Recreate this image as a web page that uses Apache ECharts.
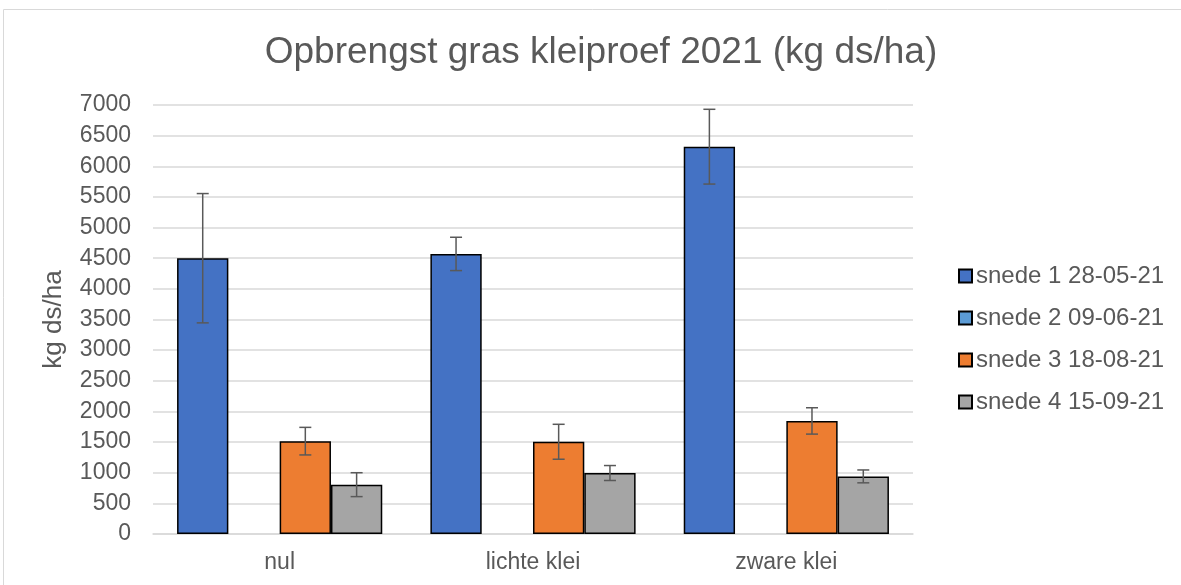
<!DOCTYPE html>
<html lang="nl">
<head>
  <meta charset="UTF-8">
  <title>Opbrengst gras kleiproef 2021</title>
  <style>
    * { margin: 0; padding: 0; }
    body { background: #fff; }
  </style>
  <script src="https://cdn.jsdelivr.net/npm/echarts@6/dist/echarts.min.js"></script>
</head>
<body>
  <div id="chart" style="width: 1181px; height: 585px;"></div>
  <script>
    const chart = echarts.init(document.getElementById('chart'))

    // data
    const categories = ['nul', 'lichte klei', 'zware klei']
    const seriesNames = ['snede 1 28-05-21', 'snede 2 09-06-21', 'snede 3 18-08-21', 'snede 4 15-09-21']
    const snede1 = [4500, 4570, 6320]
    const snede2 = [null, null, null]
    const snede3 = [1515, 1505, 1845]
    const snede4 = [805, 995, 940]
    // half-width of the error bars
    const err1 = [1055, 272, 610]
    const err2 = [null, null, null]
    const err3 = [225, 285, 215]
    const err4 = [195, 122, 105]

    const values = [snede1, snede2, snede3, snede4]
    const errors = [err1, err2, err3, err4]
    const colors = ['#4472c4', '#5b9bd5', '#ed7d31', '#a5a5a5']
    const catGap = 0.19
    const textColor = '#595959'
    const font = 'Liberation Sans, Arial, sans-serif'

    const barSeries = seriesNames.map((name, i) => ({
      name,
      type: 'bar',
      data: values[i],
      barGap: '0%',
      barCategoryGap: catGap * 100 + '%',
      itemStyle: { color: colors[i], borderColor: '#000', borderWidth: 1.5 },
      emphasis: { disabled: true }
    }))

    // error bars as custom series
    const errData = []
    values.forEach((vals, s) => {
      vals.forEach((v, c) => {
        if (v != null && errors[s][c] != null) errData.push([c, v, errors[s][c], s])
      })
    })

    const errorSeries = {
      type: 'custom',
      data: errData,
      z: 10,
      renderItem(params, api) {
        const c = api.value(0), v = api.value(1), e = api.value(2), s = api.value(3)
        const band = api.size([1, 0])[0]
        const bw = band * (1 - catGap) / 4
        const dx = (s - 1.5) * bw
        const top = api.coord([c, v + e])
        const bot = api.coord([c, v - e])
        const x = top[0] + dx
        const cap = 6
        const style = { stroke: '#595959', lineWidth: 1.5 }
        return {
          type: 'group',
          children: [
            { type: 'line', shape: { x1: x, y1: top[1], x2: x, y2: bot[1] }, style },
            { type: 'line', shape: { x1: x - cap, y1: top[1], x2: x + cap, y2: top[1] }, style },
            { type: 'line', shape: { x1: x - cap, y1: bot[1], x2: x + cap, y2: bot[1] }, style }
          ]
        }
      }
    }

    const option = {
      animation: false,
      textStyle: { fontFamily: font },
      graphic: [{
        type: 'rect',
        shape: { x: 3.5, y: 9.5, width: 1200, height: 600 },
        style: { fill: 'none', stroke: '#d9d9d9', lineWidth: 1 },
        silent: true
      }],
      title: {
        text: 'Opbrengst gras kleiproef 2021 (kg ds/ha)',
        left: 596,
        textAlign: 'center',
        top: 29,
        textStyle: { fontSize: 37, fontWeight: 'normal', color: textColor, fontFamily: font }
      },
      legend: {
        data: seriesNames,
        orient: 'vertical',
        left: 953,
        top: 259,
        icon: 'rect',
        itemWidth: 13,
        itemHeight: 13,
        itemGap: 18,
        textStyle: { fontSize: 24, color: textColor, fontFamily: font, padding: [0, 0, 0, -1] },
        selectedMode: false
      },
      grid: { left: 153, right: 268, top: 105, bottom: 51 },
      xAxis: {
        type: 'category',
        data: categories,
        axisLine: { lineStyle: { color: '#d9d9d9', width: 1.5 } },
        axisTick: { show: false },
        axisLabel: { fontSize: 23, color: textColor, margin: 17 }
      },
      yAxis: {
        type: 'value',
        min: 0,
        max: 7000,
        interval: 500,
        name: 'kg ds/ha',
        nameLocation: 'middle',
        nameGap: 86,
        nameRotate: 90,
        nameTextStyle: { fontSize: 26, color: textColor },
        axisLabel: { fontSize: 23, color: textColor, margin: 22, formatter: v => String(v) },
        splitLine: { lineStyle: { color: '#d9d9d9', width: 1.5 } }
      },
      series: [...barSeries, errorSeries]
    }

    chart.setOption(option)
  </script>
</body>
</html>
